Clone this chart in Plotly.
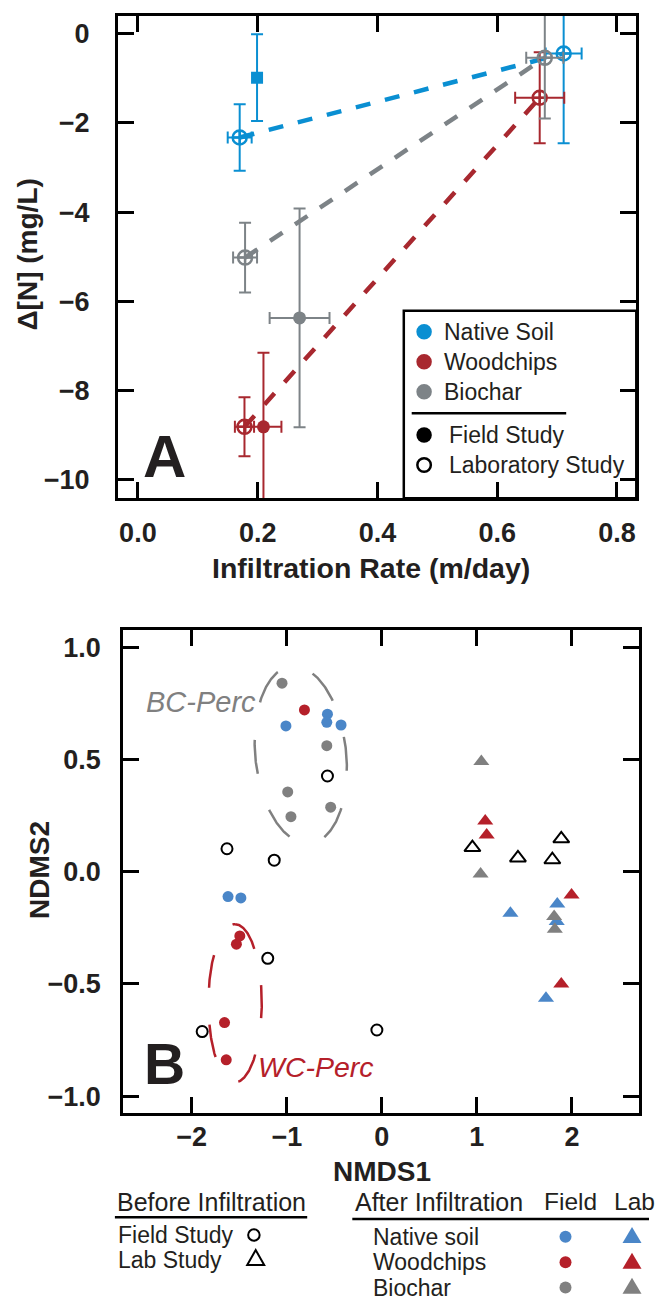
import numpy as np
import plotly.graph_objects as go

W, H = 657, 1300

# ---------------- Panel A data ----------------
materials = ["Native Soil", "Woodchips", "Biochar"]
colors_a = ["#0a8fd2", "#a8282f", "#7d8387"]

lab_lo_x = [0.170, 0.178, 0.179]
lab_lo_y = [-2.33, -8.81, -5.02]
lab_lo_ex = [0.020, 0.016, 0.020]
lab_lo_ey = [0.745, 0.66, 0.78]

lab_hi_x = [0.711, 0.671, 0.6795]
lab_hi_y = [-0.45, -1.44, -0.546]
lab_hi_ex = [0.030, 0.041, 0.031]
lab_hi_ey = [2.01, 1.02, 1.36]

field_x = [0.199, 0.2097, 0.270]
field_y = [-0.99, -8.81, -6.37]
field_ex = [0.0, 0.030, 0.050]
field_ey = [0.97, 1.66, 2.45]
field_symbols = ["square", "circle", "circle"]

xa_ticks = [0.0, 0.2, 0.4, 0.6, 0.8]
xa_text = ["0.0", "0.2", "0.4", "0.6", "0.8"]
ya_ticks = [0, -2, -4, -6, -8, -10]
ya_text = ["0", "\u22122", "\u22124", "\u22126", "\u22128", "\u221210"]

# ---------------- Panel B data ----------------
colors_b = {"Native soil": "#4a86c8", "Woodchips": "#b5202a", "Biochar": "#808080"}

field_b = {
    "Native soil": ([-1.009, -0.572, -0.579, -0.429, -1.618, -1.483],
                    [0.649, 0.701, 0.665, 0.653, -0.111, -0.117]),
    "Woodchips": ([-0.814, -1.494, -1.530, -1.655, -1.637],
                  [0.720, -0.286, -0.323, -0.672, -0.838]),
    "Biochar": ([-1.050, -0.579, -0.990, -0.956, -0.538],
                [0.839, 0.561, 0.355, 0.245, 0.287]),
}
lab_b = {
    "Native soil": ([1.846, 1.353, 1.840, 1.727],
                    [-0.144, -0.185, -0.222, -0.564]),
    "Woodchips": ([1.088, 1.103, 1.996, 1.888],
                  [0.226, 0.163, -0.104, -0.500]),
    "Biochar": ([1.047, 1.039, 1.813, 1.820],
                [0.490, -0.010, -0.200, -0.257]),
}
before_field_x = [-0.572, -1.629, -1.132, -1.200, -1.890, -0.052]
before_field_y = [0.426, 0.102, 0.051, -0.386, -0.712, -0.705]
before_lab_x = [0.953, 1.432, 1.888, 1.794]
before_lab_y = [0.107, 0.061, 0.146, 0.053]

xb_ticks = [-2, -1, 0, 1, 2]
xb_text = ["\u22122", "\u22121", "0", "1", "2"]
yb_ticks = [1.0, 0.5, 0.0, -0.5, -1.0]
yb_text = ["1.0", "0.5", "0.0", "\u22120.5", "\u22121.0"]

# ellipse annotations: (cx, cy, semi-x, semi-y, rotation deg, start deg, direction)
bc_ellipse = (-0.853, 0.52, 0.478, 0.397, 6.0, 110.0, 1)
wc_ellipse = (-1.544, -0.586, 0.281, 0.352, 0.0, 90.0, -1)

# ---------------- layout geometry (pixels) ----------------
A_x0, A_x1, A_y0, A_y1 = 118.0, 636.3, 16.0, 498.3
B_x0, B_x1, B_y0, B_y1 = 123.1, 639.4, 630.0, 1113.3
xa_range = [-0.0332, 0.8323]
ya_range = [-10.41, 0.39]
xb_range = [-2.722, 2.71]
yb_range = [-1.076, 1.076]


def px(x):
    return x / W


def py(y):
    return 1 - y / H


FONT = "Liberation Sans, Arial, sans-serif"
TXT = "#231f20"

fig = go.Figure()

# ---- Panel A dashed lines ----
for i in range(3):
    fig.add_trace(go.Scatter(
        x=[lab_lo_x[i], lab_hi_x[i]], y=[lab_lo_y[i], lab_hi_y[i]],
        mode="lines", line=dict(color=colors_a[i], width=4.5, dash="15px,15px"),
        xaxis="x", yaxis="y", hoverinfo="skip", showlegend=False))

# ---- Panel A points ----
for i in range(3):
    c = colors_a[i]
    fig.add_trace(go.Scatter(
        x=[lab_lo_x[i], lab_hi_x[i]], y=[lab_lo_y[i], lab_hi_y[i]],
        mode="markers",
        marker=dict(symbol="circle-cross-open", size=14, color=c, line=dict(width=2.5, color=c)),
        error_x=dict(type="data", array=[lab_lo_ex[i], lab_hi_ex[i]], color=c, thickness=2, width=6),
        error_y=dict(type="data", array=[lab_lo_ey[i], lab_hi_ey[i]], color=c, thickness=2, width=6),
        xaxis="x", yaxis="y", hoverinfo="skip", showlegend=False))
    fig.add_trace(go.Scatter(
        x=[field_x[i]], y=[field_y[i]], mode="markers",
        marker=dict(symbol=field_symbols[i], size=13 if field_symbols[i] == "circle" else 12, color=c),
        error_x=dict(type="data", array=[field_ex[i]], color=c, thickness=2, width=6,
                     visible=field_ex[i] > 0),
        error_y=dict(type="data", array=[field_ey[i]], color=c, thickness=2, width=6),
        xaxis="x", yaxis="y", hoverinfo="skip", showlegend=False))

# ---- Panel B ellipses ----
kx = (B_x1 - B_x0) / (xb_range[1] - xb_range[0])
ky = (B_y1 - B_y0) / (yb_range[1] - yb_range[0])


def ellipse_pts(params):
    cx, cy, ax, ay, rot, start, direction = params
    t = np.deg2rad(start) + direction * np.linspace(0, 2 * np.pi, 361)
    u = ax * kx * np.cos(t)
    v = ay * ky * np.sin(t)
    r = np.deg2rad(rot)
    uu = u * np.cos(r) - v * np.sin(r)
    vv = u * np.sin(r) + v * np.cos(r)
    return cx + uu / kx, cy + vv / ky


ex_, ey_ = ellipse_pts(bc_ellipse)
fig.add_trace(go.Scatter(x=ex_, y=ey_, mode="lines",
                         line=dict(color="#808080", width=2.5, dash="34px,38px"),
                         xaxis="x2", yaxis="y2", hoverinfo="skip", showlegend=False))
ex_, ey_ = ellipse_pts(wc_ellipse)
fig.add_trace(go.Scatter(x=ex_, y=ey_, mode="lines",
                         line=dict(color="#b5202a", width=2.5, dash="33px,37px"),
                         xaxis="x2", yaxis="y2", hoverinfo="skip", showlegend=False))

# ---- Panel B points ----
fig.add_trace(go.Scatter(x=before_field_x, y=before_field_y, mode="markers",
                         marker=dict(symbol="circle-open", size=11, color="black", line=dict(width=2)),
                         xaxis="x2", yaxis="y2", hoverinfo="skip", showlegend=False))
fig.add_trace(go.Scatter(x=before_lab_x, y=before_lab_y, mode="markers",
                         marker=dict(symbol="triangle-up-open", size=14, color="black", line=dict(width=2)),
                         xaxis="x2", yaxis="y2", hoverinfo="skip", showlegend=False))
for name in ["Native soil", "Woodchips", "Biochar"]:
    fx, fy = field_b[name]
    fig.add_trace(go.Scatter(x=fx, y=fy, mode="markers",
                             marker=dict(symbol="circle", size=11, color=colors_b[name]),
                             xaxis="x2", yaxis="y2", hoverinfo="skip", showlegend=False))
for name in ["Native soil", "Woodchips", "Biochar"]:
    lx, ly = lab_b[name]
    fig.add_trace(go.Scatter(x=lx, y=ly, mode="markers",
                             marker=dict(symbol="triangle-up", size=14, color=colors_b[name]),
                             xaxis="x2", yaxis="y2", hoverinfo="skip", showlegend=False))

# ---------------- axes ----------------
tickfont = dict(family=FONT, size=27, color=TXT, weight="bold")
common = dict(showline=True, linewidth=3, linecolor="black", mirror="ticks",
              ticks="inside", ticklen=16, tickwidth=3, tickcolor="black",
              showgrid=False, zeroline=False, tickfont=tickfont)

layout = dict(
    width=W, height=H, margin=dict(l=0, r=0, t=0, b=0),
    paper_bgcolor="white", plot_bgcolor="white", showlegend=False,
    xaxis=dict(domain=[px(A_x0), px(A_x1)], range=xa_range, anchor="y",
               tickvals=xa_ticks, ticktext=xa_text, ticklabelstandoff=8, **common),
    yaxis=dict(domain=[py(A_y1), py(A_y0)], range=ya_range, anchor="x",
               tickvals=ya_ticks, ticktext=ya_text, ticklabelstandoff=20, **common),
    xaxis2=dict(domain=[px(B_x0), px(B_x1)], range=xb_range, anchor="y2",
                tickvals=xb_ticks, ticktext=xb_text, ticklabelstandoff=-3, **common),
    yaxis2=dict(domain=[py(B_y1), py(B_y0)], range=yb_range, anchor="x2",
                tickvals=yb_ticks, ticktext=yb_text, ticklabelstandoff=14, **common),
)
fig.update_layout(**layout)

ann = []


def text(x, y, s, size, color=TXT, weight="normal", style="normal", xanchor="left", angle=0):
    ann.append(dict(x=px(x), y=py(y), xref="paper", yref="paper", text=s, showarrow=False,
                    xanchor=xanchor, yanchor="middle", textangle=angle,
                    font=dict(family=FONT, size=size, color=color, weight=weight, style=style)))


# axis titles
text(371, 568.3, "Infiltration Rate (m/day)", 28.5, weight="bold", xanchor="center")
text(27.5, 255, "\u0394[N] (mg/L)", 28, weight="bold", xanchor="center", angle=-90)
text(381.7, 1171.7, "NMDS1", 28, weight="bold", xanchor="center")
text(40, 870, "NDMS2", 28, weight="bold", xanchor="center", angle=-90)

# panel letters
text(164, 456.5, "A", 60, weight="bold", xanchor="center")
text(164.9, 1063.5, "B", 57, weight="bold", xanchor="center")

# ellipse labels
text(200.8, 701.7, "BC-Perc", 29, color="#808080", style="italic", xanchor="center")
text(315.9, 1066.7, "WC-Perc", 28.5, color="#b5202a", style="italic", xanchor="center")

shapes = []

# ---- Panel A legend ----
shapes.append(dict(type="rect", xref="paper", yref="paper", x0=px(403.8), x1=px(A_x1), y0=py(A_y1), y1=py(310.7),
                   line=dict(color="black", width=2.5), fillcolor="white", layer="below"))
shapes.append(dict(type="line", xref="paper", yref="paper", x0=px(411.7), x1=px(566.2), y0=py(413.3), y1=py(413.3),
                   line=dict(color="black", width=2.5)))
leg_rows = [(331.7, colors_a[0], materials[0], True, 441.9),
            (361.7, colors_a[1], materials[1], True, 441.9),
            (391.7, colors_a[2], materials[2], True, 441.9),
            (435.0, "black", "Field Study", True, 447.2),
            (465.0, "black", "Laboratory Study", False, 447.2)]


def circle_shape(cx, cy, d, color, filled, lw=2.5):
    return dict(type="circle", xref="paper", yref="paper", xsizemode="pixel", ysizemode="pixel",
                xanchor=px(cx), yanchor=py(cy), x0=-d / 2, x1=d / 2, y0=-d / 2, y1=d / 2,
                fillcolor=color if filled else "rgba(0,0,0,0)",
                line=dict(color=color, width=0 if filled else lw))


def tri_shape(cx, cy, w, h, color, filled, lw=2):
    path = f"M{-w/2},{-h/3} L{w/2},{-h/3} L0,{2*h/3} Z"
    return dict(type="path", xref="paper", yref="paper", xsizemode="pixel", ysizemode="pixel",
                xanchor=px(cx), yanchor=py(cy), path=path,
                fillcolor=color if filled else "rgba(0,0,0,0)",
                line=dict(color=color, width=0 if filled else lw))


for yy, col, lab, filled, tx in leg_rows:
    shapes.append(circle_shape(424.1, yy, 15.5 if filled else 13.5, col, filled))
    text(tx, yy, lab, 23)

# ---- Panel B legend ----
text(114.9, 1201.7, "Before Infiltration", 25)
text(353, 1201.7, "After Infiltration", 25)
text(542.4, 1201.7, "Field", 24.5)
text(612.0, 1201.7, "Lab", 24.5)
shapes.append(dict(type="line", xref="paper", yref="paper", x0=px(114.9), x1=px(307.2), y0=py(1217.3), y1=py(1217.3),
                   line=dict(color="black", width=2.5)))
shapes.append(dict(type="line", xref="paper", yref="paper", x0=px(352.3), x1=px(649), y0=py(1219), y1=py(1219),
                   line=dict(color="black", width=2.5)))
text(116, 1235, "Field Study", 23)
text(116, 1260, "Lab Study", 23)
shapes.append(circle_shape(253.9, 1235, 11.5, "black", False, lw=2))
shapes.append(tri_shape(255.7, 1260, 17, 15, "black", False, lw=2))
for yy, name in [(1236.7, "Native soil"), (1262.3, "Woodchips"), (1287.5, "Biochar")]:
    text(370.8, yy, name, 23)
    shapes.append(circle_shape(565.5, yy, 12, colors_b[name], True))
    shapes.append(tri_shape(632, yy + 1, 19, 16, colors_b[name], True))

fig.update_layout(annotations=ann, shapes=shapes)
fig.write_html("out.html", config={"displayModeBar": False},
               post_script="document.body.style.margin='0px';document.body.style.overflow='hidden';")
